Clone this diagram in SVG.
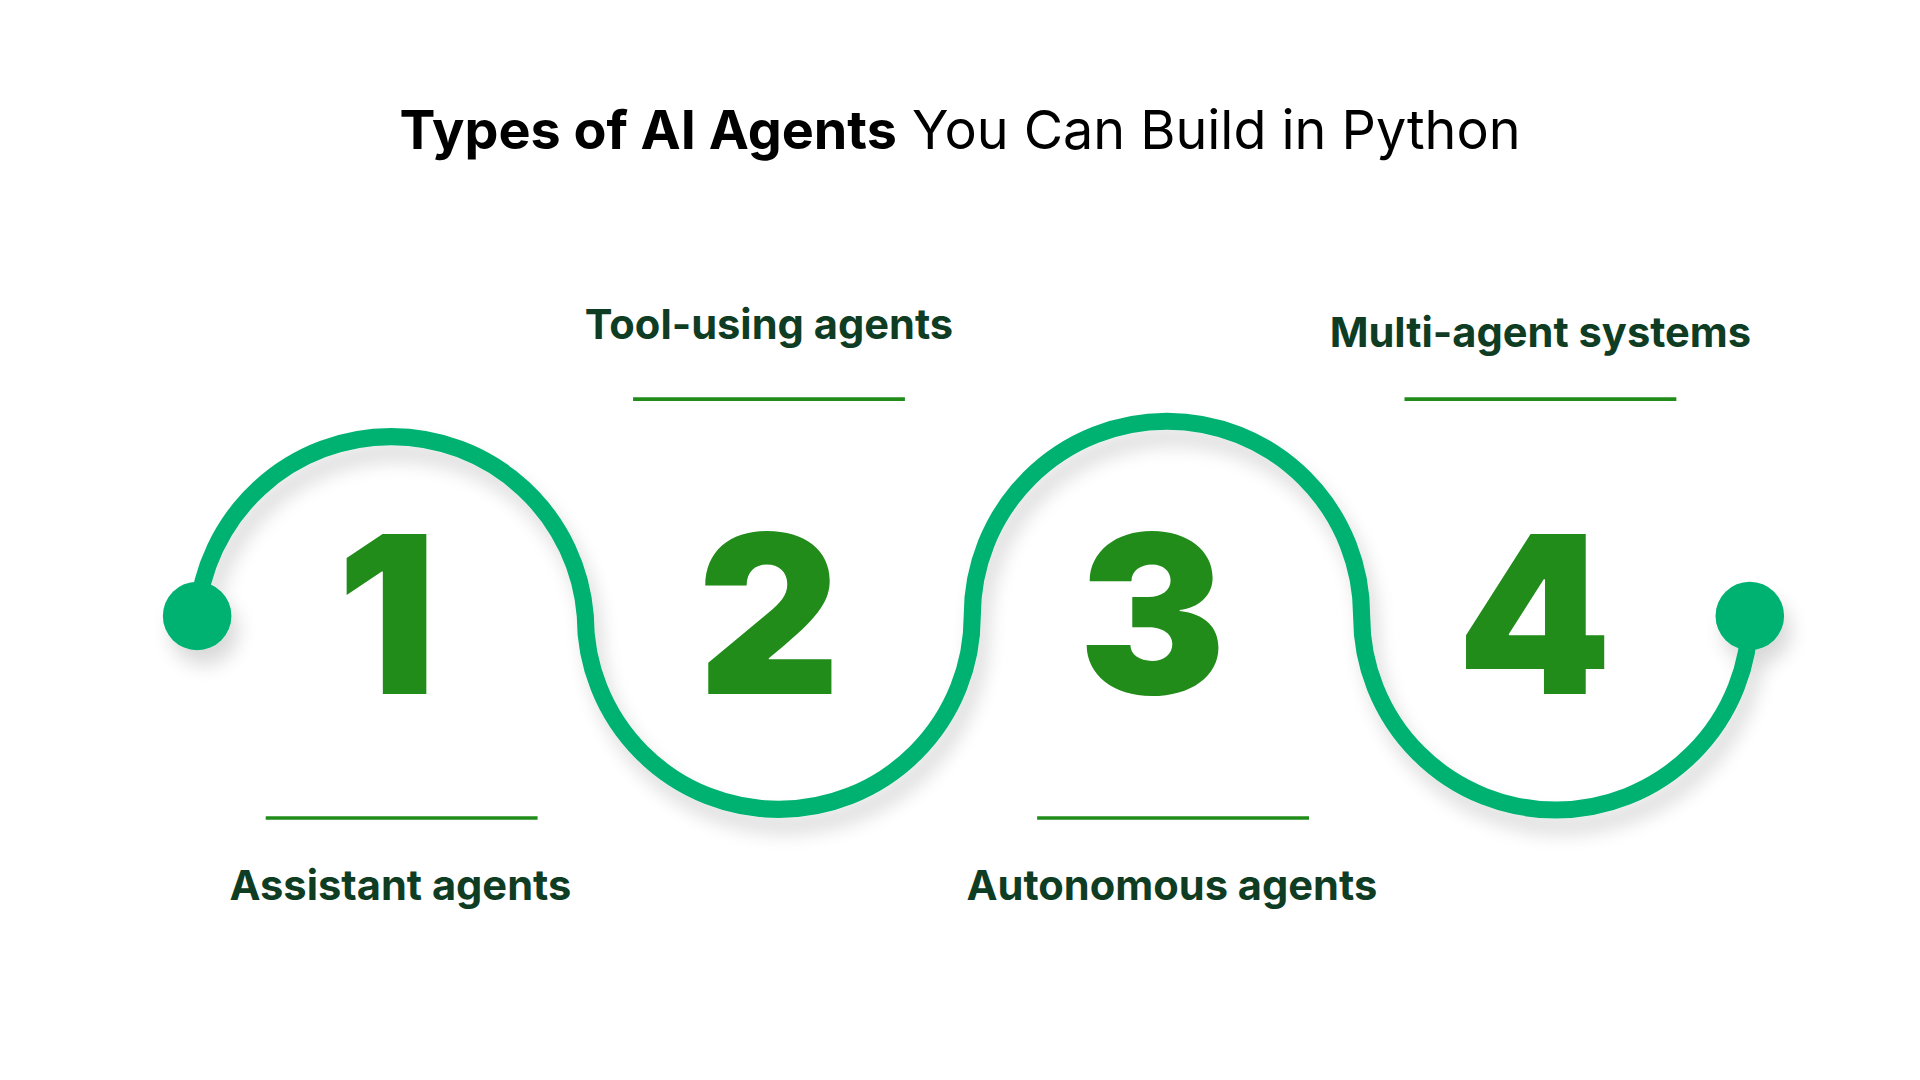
<svg xmlns="http://www.w3.org/2000/svg" width="1920" height="1080" viewBox="0 0 1920 1080">
<defs>
<style>
.lbl{font-family:Inter,"Liberation Sans",sans-serif;font-weight:700;font-size:34px;fill:#0f3d24;text-anchor:middle}
.num{font-family:Inter,"Liberation Sans",sans-serif;font-weight:900;font-size:180px;fill:#218c1a;text-anchor:middle}
.rule{stroke:#218c1a;stroke-width:3}
</style>
<filter id="sh" x="-20%" y="-20%" width="140%" height="150%"><feGaussianBlur in="SourceAlpha" stdDeviation="8"/><feOffset dx="6" dy="12"/><feComponentTransfer><feFuncA type="linear" slope="0.15"/></feComponentTransfer><feMerge><feMergeNode/><feMergeNode in="SourceGraphic"/></feMerge></filter>
</defs>
<rect width="1920" height="1080" fill="#fff"/>
<g transform="scale(1.2245)">
<text x="784" y="122" text-anchor="middle" font-family="Inter,'Liberation Sans',sans-serif" font-size="44" fill="#000"><tspan font-weight="700">Types of AI Agents</tspan> You Can Build in Python</text>
<g id="connectors" filter="url(#sh)">
<path d="M161 503 A159 159 0 0 1 478 503 A158 158 0 0 0 794 503 A159 159 0 0 1 1112 503 A158 158 0 0 0 1429 503" fill="none" stroke="#00b272" stroke-width="14"/>
<circle cx="161" cy="503" r="28" fill="#00b272"/>
<circle cx="1429" cy="503" r="28" fill="#00b272"/>
</g>
<g id="n1"><text class="num" x="316" y="567">1</text><line class="rule" x1="217" y1="668" x2="439" y2="668"/><text class="lbl" x="327" y="735">Assistant agents</text></g>
<g id="n2"><text class="num" x="628" y="567">2</text><line class="rule" x1="517" y1="326" x2="739" y2="326"/><text class="lbl" x="628" y="277">Tool-using agents</text></g>
<g id="n3"><text class="num" x="941" y="567">3</text><line class="rule" x1="847" y1="668" x2="1069" y2="668"/><text class="lbl" x="957" y="735">Autonomous agents</text></g>
<g id="n4"><text class="num" x="1253" y="567">4</text><line class="rule" x1="1147" y1="326" x2="1369" y2="326"/><text class="lbl" x="1258" y="283">Multi-agent systems</text></g>
</g>
</svg>
